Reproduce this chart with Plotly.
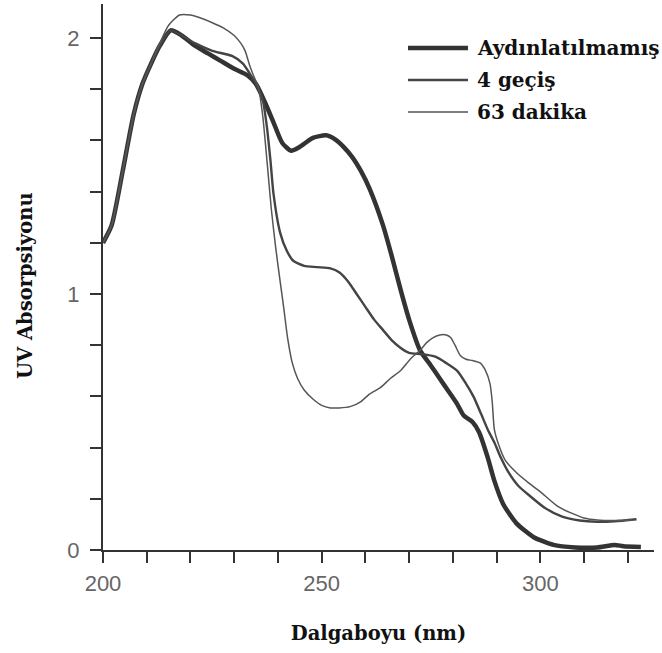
import plotly.graph_objects as go

# Aydınlatılmamış (thick)
wl_a = [200, 202, 204.5, 207, 209, 211, 213, 215.5, 218, 221, 224, 227, 230, 233, 235,
        237, 239, 241, 243, 245, 248, 251, 253, 255, 257, 259, 261, 264, 266, 268, 270,
        272.5, 275, 277, 279, 281, 282.5, 284.5, 286, 288, 289.5, 291.5, 294.5, 298.5,
        303, 308, 313, 317, 319, 323]
abs_a = [1.2, 1.27, 1.48, 1.70, 1.82, 1.90, 1.97, 2.03, 2.01, 1.97, 1.94, 1.91, 1.88, 1.855, 1.82,
         1.75, 1.67, 1.59, 1.56, 1.575, 1.61, 1.62, 1.605, 1.575, 1.535, 1.48, 1.41, 1.27, 1.15, 1.02, 0.90,
         0.78, 0.72, 0.67, 0.62, 0.57, 0.525, 0.50, 0.46, 0.36, 0.27, 0.18, 0.105, 0.05,
         0.02, 0.01, 0.01, 0.02, 0.015, 0.012]

# 4 geçiş (medium)
wl_b = [200, 202, 204.5, 207, 209, 211, 213, 215.5, 218, 221, 225, 229.5, 232, 233.6, 235,
        236.5, 237.5, 238.3, 239, 240.5, 242, 243.5, 246, 249, 252, 254, 256, 258, 260, 262,
        264, 266, 268, 270, 273, 276, 278.5, 281, 283, 284.7, 286.5, 288, 289.5, 291, 292.5,
        295, 297.7, 301, 305, 309, 313, 317, 322]
abs_b = [1.2, 1.27, 1.48, 1.70, 1.82, 1.90, 1.97, 2.03, 2.01, 1.98, 1.95, 1.93, 1.90, 1.86, 1.82,
         1.76, 1.65, 1.52, 1.39, 1.24, 1.17, 1.13, 1.11, 1.105, 1.10, 1.085, 1.05, 1.0, 0.95, 0.90,
         0.86, 0.82, 0.79, 0.77, 0.765, 0.755, 0.73, 0.70, 0.65, 0.60, 0.53, 0.47, 0.42, 0.36, 0.31,
         0.25, 0.21, 0.165, 0.13, 0.115, 0.11, 0.112, 0.12]

# 63 dakika (thin)
wl_c = [200, 202, 204.5, 207, 209, 211, 213, 215, 217.5, 220, 222, 225, 227.5, 230, 231.5,
        232.5, 233.6, 234.5, 235.5, 236.5, 237.5, 238.5, 239.5, 240.5, 241.3, 242.2, 243.3,
        244.5, 246, 248, 250, 252, 254, 256.5, 259, 261, 263.5, 265.7, 268, 270.5, 272.5,
        274, 275.5, 277, 278.5, 279.5, 280.5, 281.7, 283, 284.5, 286.3, 287.5, 288.5, 289,
        289.5, 290.5, 292, 294.7, 297.5, 300.5, 304, 307, 310, 313, 317, 321]
abs_c = [1.2, 1.27, 1.48, 1.70, 1.82, 1.90, 1.98, 2.05, 2.09, 2.09, 2.08, 2.06, 2.04, 2.01, 1.98,
         1.95, 1.89, 1.85, 1.81, 1.70, 1.52, 1.33, 1.18, 1.05, 0.95, 0.83, 0.73,
         0.67, 0.625, 0.59, 0.565, 0.555, 0.555, 0.56, 0.58, 0.61, 0.635, 0.67, 0.70, 0.75, 0.78,
         0.81, 0.83, 0.84, 0.84, 0.83, 0.80, 0.76, 0.745, 0.74, 0.73, 0.70, 0.65, 0.58,
         0.47, 0.41, 0.35, 0.30, 0.26, 0.22, 0.17, 0.145, 0.125, 0.117, 0.115, 0.117]

series_names = ["Aydınlatılmamış", "4 geçiş", "63 dakika"]
x_title = "Dalgaboyu (nm)"
y_title = "UV Absorpsiyonu"

x_tickvals = [200, 210, 220, 230, 240, 250, 260, 270, 280, 290, 300, 310, 320]
x_ticktext = ["200", "", "", "", "", "250", "", "", "", "", "300", "", ""]
y_tickvals = [0, 0.2, 0.4, 0.6, 0.8, 1.0, 1.2, 1.4, 1.6, 1.8, 2.0]
y_ticktext = ["0", "", "", "", "", "1", "", "", "", "", "2"]

serif = "DejaVu Serif"
fig = go.Figure()
styles = [(wl_a, abs_a, 4.5, "#333333"), (wl_b, abs_b, 2.4, "#444444"), (wl_c, abs_c, 1.5, "#555555")]

# hand-placed legend (paper coordinates)
leg_rows_y = [0.9194, 0.8608, 0.8022]
leg_x0, leg_x1, leg_tx = 0.5535, 0.6624, 0.6751
shapes, annotations = [], []
for name, (xs, ys, w, c), ly in zip(series_names, styles, leg_rows_y):
    fig.add_trace(go.Scatter(x=xs, y=ys, mode="lines", name=name, showlegend=False,
                             line=dict(color=c, width=w, shape="spline", smoothing=0.6)))
    shapes.append(dict(type="line", xref="paper", yref="paper", x0=leg_x0, x1=leg_x1, y0=ly, y1=ly,
                       line=dict(color=c, width=w)))
    annotations.append(dict(text="<b>" + name + "</b>", showarrow=False, xref="paper", yref="paper",
                            x=leg_tx, y=ly, xanchor="left", yanchor="middle",
                            font=dict(family=serif, size=20, color="#111111")))

annotations.append(dict(text="<b>" + y_title + "</b>", textangle=-90, showarrow=False,
                        xref="paper", yref="paper", x=-0.1416, y=0.4853,
                        xanchor="center", yanchor="middle",
                        font=dict(family=serif, size=19.5, color="#111111")))

fig.update_layout(
    width=662, height=653,
    margin=dict(l=103, r=8, t=4, b=103),
    paper_bgcolor="white", plot_bgcolor="white",
    showlegend=False,
    xaxis=dict(range=[200, 326], tickvals=x_tickvals, ticktext=x_ticktext, automargin=False,
               ticks="outside", ticklen=11, tickwidth=2, tickcolor="#333333", ticklabelstandoff=2,
               showline=True, linecolor="#333333", linewidth=2, showgrid=False, zeroline=False,
               tickfont=dict(family="Liberation Sans", size=22, color="#666666"),
               title=dict(text="<b>" + x_title + "</b>", font=dict(family=serif, size=19.5, color="#111111"),
                          standoff=31)),
    yaxis=dict(range=[0, 2.133], tickvals=y_tickvals, ticktext=y_ticktext, automargin=False,
               ticks="outside", ticklen=11, tickwidth=2, tickcolor="#333333", ticklabelstandoff=6,
               showline=True, linecolor="#333333", linewidth=2, showgrid=False, zeroline=False,
               tickfont=dict(family="Liberation Sans", size=22, color="#666666")),
    shapes=shapes,
    annotations=annotations,
)
fig.write_html("out.html", config={"displayModeBar": False},
               post_script="document.body.style.margin='0';")
